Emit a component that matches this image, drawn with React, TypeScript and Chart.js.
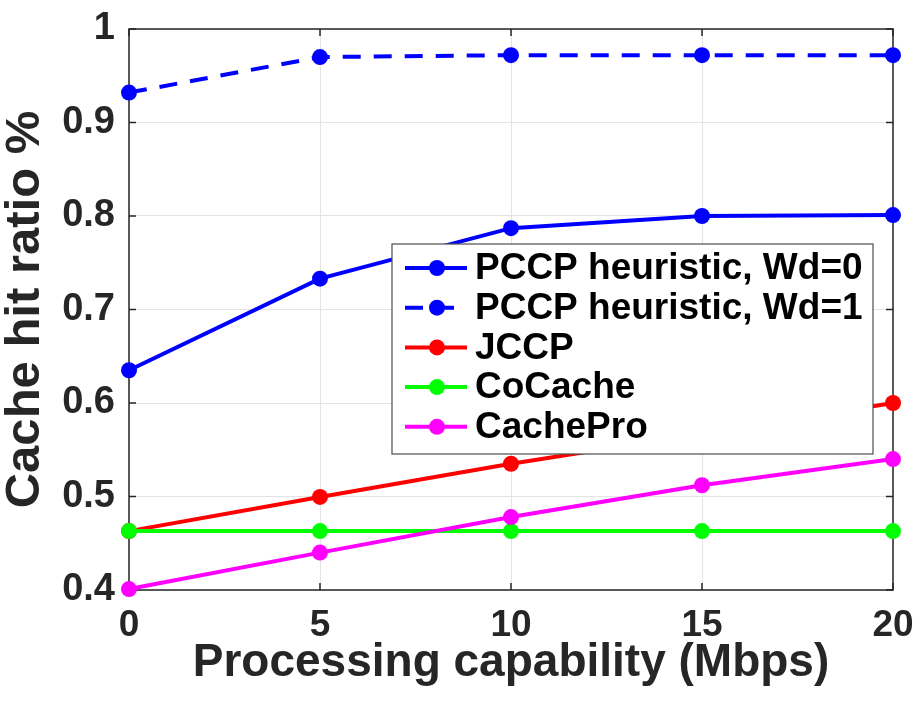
import { useEffect, useRef } from "react";
import { Chart, registerables } from "chart.js";

Chart.register(...registerables);

// Processing capability (Mbps) on the x axis
const capability = [0, 5, 10, 15, 20];

// Cache hit ratio per scheme
const pccpWd0 = [0.635, 0.733, 0.787, 0.8, 0.801];
const pccpWd1 = [0.932, 0.97, 0.972, 0.972, 0.972];
const jccp = [0.463, 0.4995, 0.535, 0.567, 0.6];
const coCache = [0.463, 0.463, 0.463, 0.463, 0.463];
const cachePro = [0.401, 0.44, 0.478, 0.512, 0.54];

const seriesNames = [
  "PCCP heuristic, Wd=0",
  "PCCP heuristic, Wd=1",
  "JCCP",
  "CoCache",
  "CachePro",
];

const xTickValues = [0, 5, 10, 15, 20];
const yTickValues = [0.4, 0.5, 0.6, 0.7, 0.8, 0.9, 1];

const FONT = "'Liberation Sans', Arial, Helvetica, sans-serif";
const AXIS_COLOR = "#262626";
const DASH = [18, 13];

const toPoints = (ys: number[]) => capability.map((x, i) => ({ x, y: ys[i] }));

// Axes box with MATLAB-style inward tick marks on all four sides
const boxPlugin = {
  id: "axesBox",
  beforeDatasetsDraw(chart: any) {
    const { ctx, chartArea: a, scales } = chart;
    const tick = 7;
    ctx.save();
    ctx.strokeStyle = AXIS_COLOR;
    ctx.lineWidth = 1.5;
    ctx.beginPath();
    for (const v of xTickValues) {
      const px = scales.x.getPixelForValue(v);
      ctx.moveTo(px, a.bottom);
      ctx.lineTo(px, a.bottom - tick);
      ctx.moveTo(px, a.top);
      ctx.lineTo(px, a.top + tick);
    }
    for (const v of yTickValues) {
      const py = scales.y.getPixelForValue(v);
      ctx.moveTo(a.left, py);
      ctx.lineTo(a.left + tick, py);
      ctx.moveTo(a.right, py);
      ctx.lineTo(a.right - tick, py);
    }
    ctx.stroke();
    ctx.strokeRect(a.left, a.top, a.right - a.left, a.bottom - a.top);
    ctx.restore();
  },
};

// Boxed legend placed inside the plot area
const legendPlugin = {
  id: "boxLegend",
  afterDatasetsDraw(chart: any) {
    const { ctx } = chart;
    const box = { x: 392, y: 244, w: 481, h: 210 };
    const rowTop = 24;
    const rowPitch = 39.7;
    ctx.save();
    ctx.fillStyle = "#ffffff";
    ctx.fillRect(box.x, box.y, box.w, box.h);
    ctx.strokeStyle = "#4d4d4d";
    ctx.lineWidth = 1.2;
    ctx.strokeRect(box.x, box.y, box.w, box.h);
    chart.data.datasets.forEach((ds: any, i: number) => {
      const cy = box.y + rowTop + i * rowPitch;
      ctx.strokeStyle = ds.borderColor;
      ctx.lineWidth = ds.borderWidth;
      ctx.setLineDash(ds.borderDash || []);
      ctx.beginPath();
      ctx.moveTo(box.x + 13, cy);
      ctx.lineTo(box.x + 75, cy);
      ctx.stroke();
      ctx.setLineDash([]);
      ctx.fillStyle = ds.pointBackgroundColor;
      ctx.beginPath();
      ctx.arc(box.x + 45, cy, ds.pointRadius, 0, Math.PI * 2);
      ctx.fill();
      ctx.fillStyle = "#000000";
      ctx.font = `bold 37px ${FONT}`;
      ctx.textAlign = "left";
      ctx.textBaseline = "middle";
      ctx.fillText(seriesNames[i], box.x + 83, cy + 1);
    });
    ctx.restore();
  },
};

export default function App() {
  const canvasRef = useRef<HTMLCanvasElement | null>(null);

  useEffect(() => {
    if (!canvasRef.current) return;
    const series = [
      { values: pccpWd0, color: "#0000ff", dash: undefined },
      { values: pccpWd1, color: "#0000ff", dash: DASH },
      { values: jccp, color: "#ff0000", dash: undefined },
      { values: coCache, color: "#00ff00", dash: undefined },
      { values: cachePro, color: "#ff00ff", dash: undefined },
    ];
    const chart = new Chart(canvasRef.current, {
      type: "line",
      data: {
        datasets: series.map((s, i) => ({
          label: seriesNames[i],
          data: toPoints(s.values),
          borderColor: s.color,
          backgroundColor: s.color,
          pointBackgroundColor: s.color,
          pointBorderColor: s.color,
          pointBorderWidth: 0,
          pointRadius: 8,
          borderWidth: 4,
          borderDash: s.dash,
          tension: 0,
          clip: false,
          order: series.length - i,
        })),
      },
      options: {
        animation: false,
        responsive: true,
        maintainAspectRatio: false,
        layout: { padding: { top: 29, right: 31, left: 0, bottom: 0 } },
        plugins: {
          legend: { display: false },
          tooltip: { enabled: false },
        },
        scales: {
          x: {
            type: "linear",
            min: 0,
            max: 20,
            afterFit: (scale: any) => {
              scale.height = 111;
              scale.paddingLeft = 0;
              scale.paddingRight = 0;
            },
            afterBuildTicks: (scale: any) => {
              scale.ticks = xTickValues.map((v) => ({ value: v }));
            },
            grid: { color: "#e4e4e4", lineWidth: 1, drawTicks: false },
            border: { display: false },
            ticks: {
              padding: 14,
              color: AXIS_COLOR,
              font: { family: FONT, size: 37, weight: "bold" },
              maxRotation: 0,
              callback: (v: any) => String(v),
            },
            title: {
              display: true,
              text: "Processing capability (Mbps)",
              color: AXIS_COLOR,
              font: { family: FONT, size: 46, weight: "bold", lineHeight: 1.1 },
              padding: { top: 0, bottom: 12 },
            },
          },
          y: {
            type: "linear",
            min: 0.4,
            max: 1,
            afterFit: (scale: any) => {
              scale.width = 129;
              scale.paddingTop = 0;
              scale.paddingBottom = 0;
            },
            afterBuildTicks: (scale: any) => {
              scale.ticks = yTickValues.map((v) => ({ value: v }));
            },
            grid: { color: "#e4e4e4", lineWidth: 1, drawTicks: false },
            border: { display: false },
            ticks: {
              padding: 14,
              color: AXIS_COLOR,
              font: { family: FONT, size: 38, weight: "bold" },
              callback: (v: any) => String(Number(Number(v).toFixed(1))),
            },
            title: {
              display: true,
              text: "Cache hit ratio %",
              color: AXIS_COLOR,
              font: { family: FONT, size: 49, weight: "bold", lineHeight: 1.05 },
              padding: { top: 0, bottom: 0 },
            },
          },
        },
      },
      plugins: [boxPlugin, legendPlugin],
    });
    return () => chart.destroy();
  }, []);

  return (
    <div style={{ position: "absolute", left: 0, top: 0, width: 924, height: 701, background: "#ffffff" }}>
      <canvas ref={canvasRef} />
    </div>
  );
}
